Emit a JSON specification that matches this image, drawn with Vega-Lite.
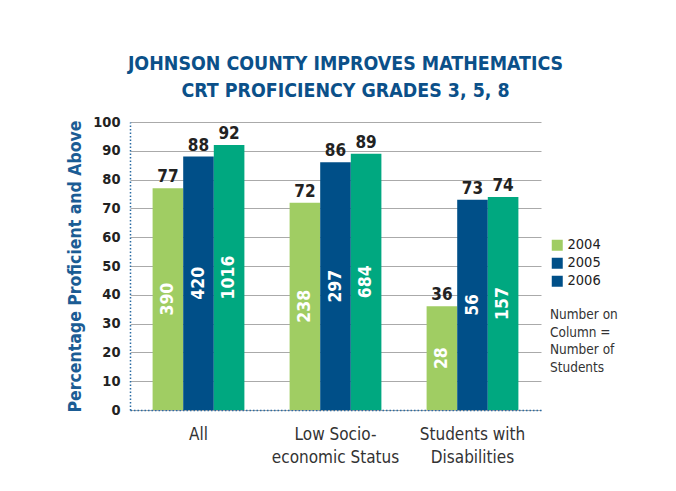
{
  "$schema": "https://vega.github.io/schema/vega-lite/v6.json",
  "width": 411,
  "height": 288,
  "autosize": {"type": "none"},
  "padding": {"left": 130, "top": 122, "right": 135, "bottom": 81},
  "background": "white",
  "title": {
    "text": ["JOHNSON COUNTY IMPROVES MATHEMATICS", "CRT PROFICIENCY GRADES 3, 5, 8"],
    "font": "DejaVu Sans Condensed",
    "fontSize": 19.4,
    "fontWeight": "bold",
    "color": "#0b5089",
    "lineHeight": 27,
    "anchor": "middle",
    "dx": 10,
    "offset": 13
  },
  "data": {
    "values": [
      {"group": "All", "year": "2004", "value": 77, "students": 390},
      {"group": "All", "year": "2005", "value": 88, "students": 420},
      {"group": "All", "year": "2006", "value": 92, "students": 1016},
      {"group": "Low Socio-economic Status", "year": "2004", "value": 72, "students": 238},
      {"group": "Low Socio-economic Status", "year": "2005", "value": 86, "students": 297},
      {"group": "Low Socio-economic Status", "year": "2006", "value": 89, "students": 684},
      {"group": "Students with Disabilities", "year": "2004", "value": 36, "students": 28},
      {"group": "Students with Disabilities", "year": "2005", "value": 73, "students": 56},
      {"group": "Students with Disabilities", "year": "2006", "value": 74, "students": 157}
    ]
  },
  "encoding": {
    "x": {
      "field": "group",
      "type": "nominal",
      "sort": null,
      "scale": {"paddingInner": 0.33, "paddingOuter": 0.165},
      "axis": {
        "title": null,
        "ticks": false,
        "labelAngle": 0,
        "labelFont": "DejaVu Sans Condensed",
        "labelFontSize": 17,
        "labelColor": "#333333",
        "labelPadding": 16,
        "labelLineHeight": 23,
        "labelExpr": "datum.value == 'Low Socio-economic Status' ? ['Low Socio-', 'economic Status'] : datum.value == 'Students with Disabilities' ? ['Students with', 'Disabilities'] : datum.value",
        "domainColor": "#2b6ca3",
        "domainDash": [1.5, 2],
        "domainWidth": 1.5,
        "grid": false
      }
    },
    "xOffset": {"field": "year", "type": "nominal", "scale": {"paddingInner": 0, "paddingOuter": 0}},
    "y": {
      "field": "value",
      "type": "quantitative",
      "scale": {"domain": [0, 100]},
      "axis": {
        "title": "Percentage Proficient and Above",
        "titleFont": "DejaVu Sans Condensed",
        "titleFontSize": 17.5,
        "titleFontWeight": "bold",
        "titleColor": "#1b5c94",
        "titlePadding": 8,
        "values": [0, 10, 20, 30, 40, 50, 60, 70, 80, 90, 100],
        "ticks": false,
        "labelPadding": 10,
        "labelFont": "DejaVu Sans Condensed",
        "labelFontSize": 14.5,
        "labelFontWeight": "bold",
        "labelColor": "#222222",
        "domainColor": "#2b6ca3",
        "domainDash": [1.5, 2],
        "domainWidth": 1.5,
        "gridColor": "#aaaaaa",
        "gridWidth": 1
      }
    }
  },
  "layer": [
    {
      "transform": [{"calculate": "datum.value / 2", "as": "mid"}],
      "mark": {"type": "point", "shape": "square", "filled": true, "size": 4},
      "encoding": {
        "y": {"field": "mid", "type": "quantitative"},
        "fill": {
          "field": "year",
          "type": "nominal",
          "scale": {"domain": ["2004", "2005", "2006"], "range": ["#a0cd63", "#004f88", "#004f88"]},
          "legend": {
            "orient": "none",
            "legendX": 420,
            "legendY": 116,
            "title": ["Number on", "Column =", "Number of", "Students"],
            "titleOrient": "bottom",
            "titleFont": "DejaVu Sans Condensed",
            "titleFontSize": 13.5,
            "titleFontWeight": "normal",
            "titleColor": "#333333",
            "titleLineHeight": 17.5,
            "titlePadding": 20,
            "symbolType": "square",
            "symbolSize": 121,
            "symbolStrokeWidth": 0,
            "symbolOpacity": 1,
            "rowPadding": 3,
            "labelFont": "DejaVu Sans Condensed",
            "labelFontSize": 14.5,
            "labelColor": "#222222",
            "labelOffset": 3
          }
        }
      }
    },
    {
      "mark": {"type": "bar"},
      "encoding": {
        "color": {
          "field": "year",
          "type": "nominal",
          "scale": {"domain": ["2004", "2005", "2006"], "range": ["#a0cd63", "#004f88", "#00a880"]},
          "legend": null
        }
      }
    },
    {
      "mark": {
        "type": "text",
        "baseline": "bottom",
        "dy": -2,
        "font": "DejaVu Sans Condensed",
        "fontSize": 17,
        "fontWeight": "bold",
        "color": "#222222"
      },
      "encoding": {"text": {"field": "value", "type": "quantitative"}}
    },
    {
      "transform": [{"calculate": "datum.value / 2", "as": "mid"}],
      "mark": {
        "type": "text",
        "angle": 270,
        "baseline": "middle",
        "align": "center",
        "font": "DejaVu Sans Condensed",
        "fontSize": 17.5,
        "fontWeight": "bold",
        "color": "white"
      },
      "encoding": {
        "y": {"field": "mid", "type": "quantitative"},
        "text": {"field": "students", "type": "quantitative"}
      }
    }
  ],
  "config": {
    "view": {"stroke": null}
  }
}
